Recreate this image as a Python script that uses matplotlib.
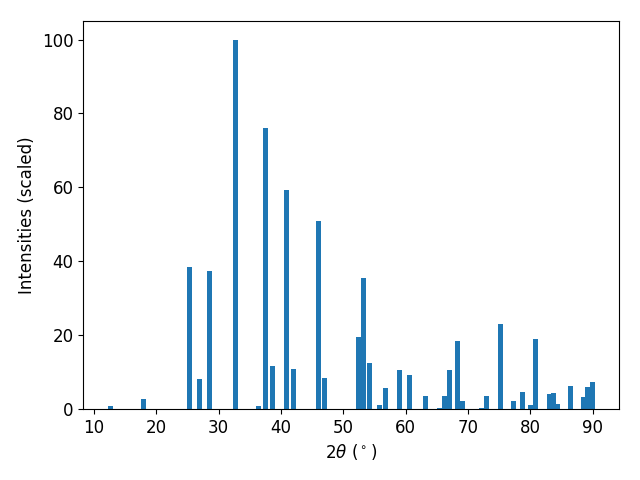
import matplotlib
matplotlib.use("Agg")
import matplotlib.pyplot as plt

# Peak positions (2theta, degrees) and scaled intensities
two_theta = [12.6, 17.9, 25.4, 27.0, 28.5, 32.7, 36.4, 37.5, 38.6, 40.9,
             42.0, 46.0, 47.0, 52.4, 53.2, 54.2, 55.8, 56.7, 59.1, 60.7,
             63.2, 65.5, 66.2, 67.0, 68.4, 69.2, 72.2, 72.9, 75.2, 77.3,
             78.7, 80.1, 80.8, 83.0, 83.7, 84.4, 86.4, 88.5, 89.2, 89.9]
intensity = [0.8, 2.7, 38.5, 8.1, 37.4, 100.0, 0.8, 76.1, 11.6, 59.3,
             10.8, 50.9, 8.4, 19.5, 35.5, 12.5, 1.1, 5.7, 10.6, 9.2,
             3.5, 0.3, 3.5, 10.6, 18.4, 2.2, 0.3, 3.5, 23.0, 2.2,
             4.6, 1.1, 19.0, 4.1, 4.3, 1.4, 6.2, 3.3, 5.9, 7.3]

fig, ax = plt.subplots(figsize=(6.4, 4.8), dpi=100)
ax.bar(two_theta, intensity, width=0.8)
ax.set_xlabel(r"$2\theta$ ($^\circ$)", fontsize=12)
ax.set_ylabel("Intensities (scaled)", fontsize=12)
ax.tick_params(labelsize=12)

fig.subplots_adjust(left=0.13, right=0.967, top=0.956, bottom=0.148)
plt.savefig("out.png", dpi=100)
